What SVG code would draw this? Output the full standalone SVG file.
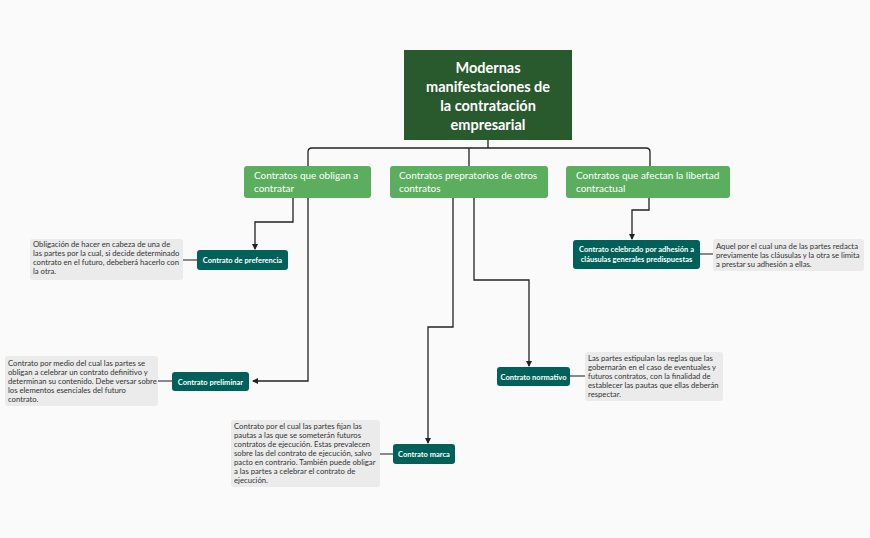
<svg xmlns="http://www.w3.org/2000/svg" width="870" height="538" viewBox="0 0 870 538">
<style>
text{font-family:Lato,"Open Sans","Liberation Sans",sans-serif}
.c{fill:none;stroke:#222;stroke-width:1.3}
.g{fill:none;stroke:#666;stroke-width:1.3}
.l1{fill:#5bae5e}
.l2{fill:#00605a}
.n{fill:#ebebeb}
.t1{fill:#fff;font-size:10px}
.t2{fill:#fff;font-size:7.5px;font-weight:bold}
.tn{fill:#333;font-size:7.7px}
</style>
<defs><marker id="a" markerWidth="6" markerHeight="6" refX="5" refY="3" orient="auto" markerUnits="userSpaceOnUse"><path d="M0,0L6,3L0,6z" fill="#222"/></marker></defs>
<rect width="870" height="538" fill="#fafafa"/>
<g id="connectors">
<path class="c" d="M488,140V148M308,166V152Q308,148 312,148H646Q650,148 650,152V166M469,148V166"/>
<path class="c" d="M293,198V222H255V249" marker-end="url(#a)"/>
<path class="c" d="M308,198V381H253" marker-end="url(#a)"/>
<path class="c" d="M453,198V327H428V443" marker-end="url(#a)"/>
<path class="c" d="M474,198V280H529V366" marker-end="url(#a)"/>
<path class="c" d="M649,198V210H632V239" marker-end="url(#a)"/>
<path class="g" d="M183,260H197M158,381H172M380,454H393M570,376H585M700,254H713"/>
</g>
<g id="root"><rect x="404" y="50" width="168" height="90" fill="#295a2e"/>
<text fill="#fff" font-size="14.5" font-weight="bold" text-anchor="middle"><tspan x="488" y="73">Modernas</tspan><tspan x="488" y="92">manifestaciones de</tspan><tspan x="488" y="111">la contratación</tspan><tspan x="488" y="130">empresarial</tspan></text></g>
<g id="c1"><rect class="l1" x="244" y="166" width="127" height="32" rx="3"/><text class="t1"><tspan x="254" y="179">Contratos que obligan a</tspan><tspan x="254" y="192">contratar</tspan></text></g>
<g id="c2"><rect class="l1" x="390" y="166" width="158" height="32" rx="3"/><text class="t1"><tspan x="399" y="179">Contratos prepratorios de otros</tspan><tspan x="399" y="192">contratos</tspan></text></g>
<g id="c3"><rect class="l1" x="566" y="166" width="164" height="32" rx="3"/><text class="t1"><tspan x="576" y="179">Contratos que afectan la libertad</tspan><tspan x="576" y="192">contractual</tspan></text></g>
<g id="pref"><rect class="l2" x="197" y="250" width="91" height="20" rx="3"/><text class="t2" x="242.5" y="263" text-anchor="middle">Contrato de preferencia</text></g>
<g id="prel"><rect class="l2" x="172" y="372" width="77" height="19" rx="3"/><text class="t2" x="210.5" y="384.5" text-anchor="middle">Contrato preliminar</text></g>
<g id="marca"><rect class="l2" x="393" y="444" width="62" height="20" rx="3"/><text class="t2" x="424" y="457" text-anchor="middle">Contrato marca</text></g>
<g id="norm"><rect class="l2" x="497" y="367" width="73" height="19" rx="3"/><text class="t2" x="533.5" y="379.5" text-anchor="middle">Contrato normativo</text></g>
<g id="adh"><rect class="l2" x="573" y="240" width="127" height="29" rx="3"/><text class="t2" text-anchor="middle"><tspan x="636.5" y="252">Contrato celebrado por adhesión a</tspan><tspan x="636.5" y="262">cláusulas generales predispuestas</tspan></text></g>
<g id="n1"><rect class="n" x="30" y="239" width="153" height="41" rx="3"/><text class="tn"><tspan x="33" y="247">Obligación de hacer en cabeza de una de</tspan><tspan x="33" y="256">las partes por la cual, si decide determinado</tspan><tspan x="33" y="265">contrato en el futuro, debeberá hacerlo con</tspan><tspan x="33" y="274">la otra.</tspan></text></g>
<g id="n2"><rect class="n" x="5" y="356" width="153" height="50" rx="3"/><text class="tn"><tspan x="8" y="366">Contrato por medio del cual las partes se</tspan><tspan x="8" y="375">obligan a celebrar un contrato definitivo y</tspan><tspan x="8" y="384">determinan su contenido. Debe versar sobre</tspan><tspan x="8" y="393">los elementos esenciales del futuro</tspan><tspan x="8" y="402">contrato.</tspan></text></g>
<g id="n3"><rect class="n" x="231" y="420" width="149" height="67" rx="3"/><text class="tn"><tspan x="234" y="429">Contrato por el cual las partes fijan las</tspan><tspan x="234" y="438">pautas a las que se someterán futuros</tspan><tspan x="234" y="447">contratos de ejecución. Estas prevalecen</tspan><tspan x="234" y="456">sobre las del contrato de ejecución, salvo</tspan><tspan x="234" y="465">pacto en contrario. También puede obligar</tspan><tspan x="234" y="474">a las partes a celebrar el contrato de</tspan><tspan x="234" y="483">ejecución.</tspan></text></g>
<g id="n4"><rect class="n" x="585" y="352" width="138" height="49" rx="3"/><text class="tn"><tspan x="588" y="361">Las partes estipulan las reglas que las</tspan><tspan x="588" y="370">gobernarán en el caso de eventuales y</tspan><tspan x="588" y="379">futuros contratos, con la finalidad de</tspan><tspan x="588" y="388">establecer las pautas que ellas deberán</tspan><tspan x="588" y="397">respectar.</tspan></text></g>
<g id="n5"><rect class="n" x="713" y="239" width="151" height="32" rx="3"/><text class="tn"><tspan x="716" y="249">Aquel por el cual una de las partes redacta</tspan><tspan x="716" y="258">previamente las cláusulas y la otra se limita</tspan><tspan x="716" y="267">a prestar su adhesión a ellas.</tspan></text></g>
</svg>
